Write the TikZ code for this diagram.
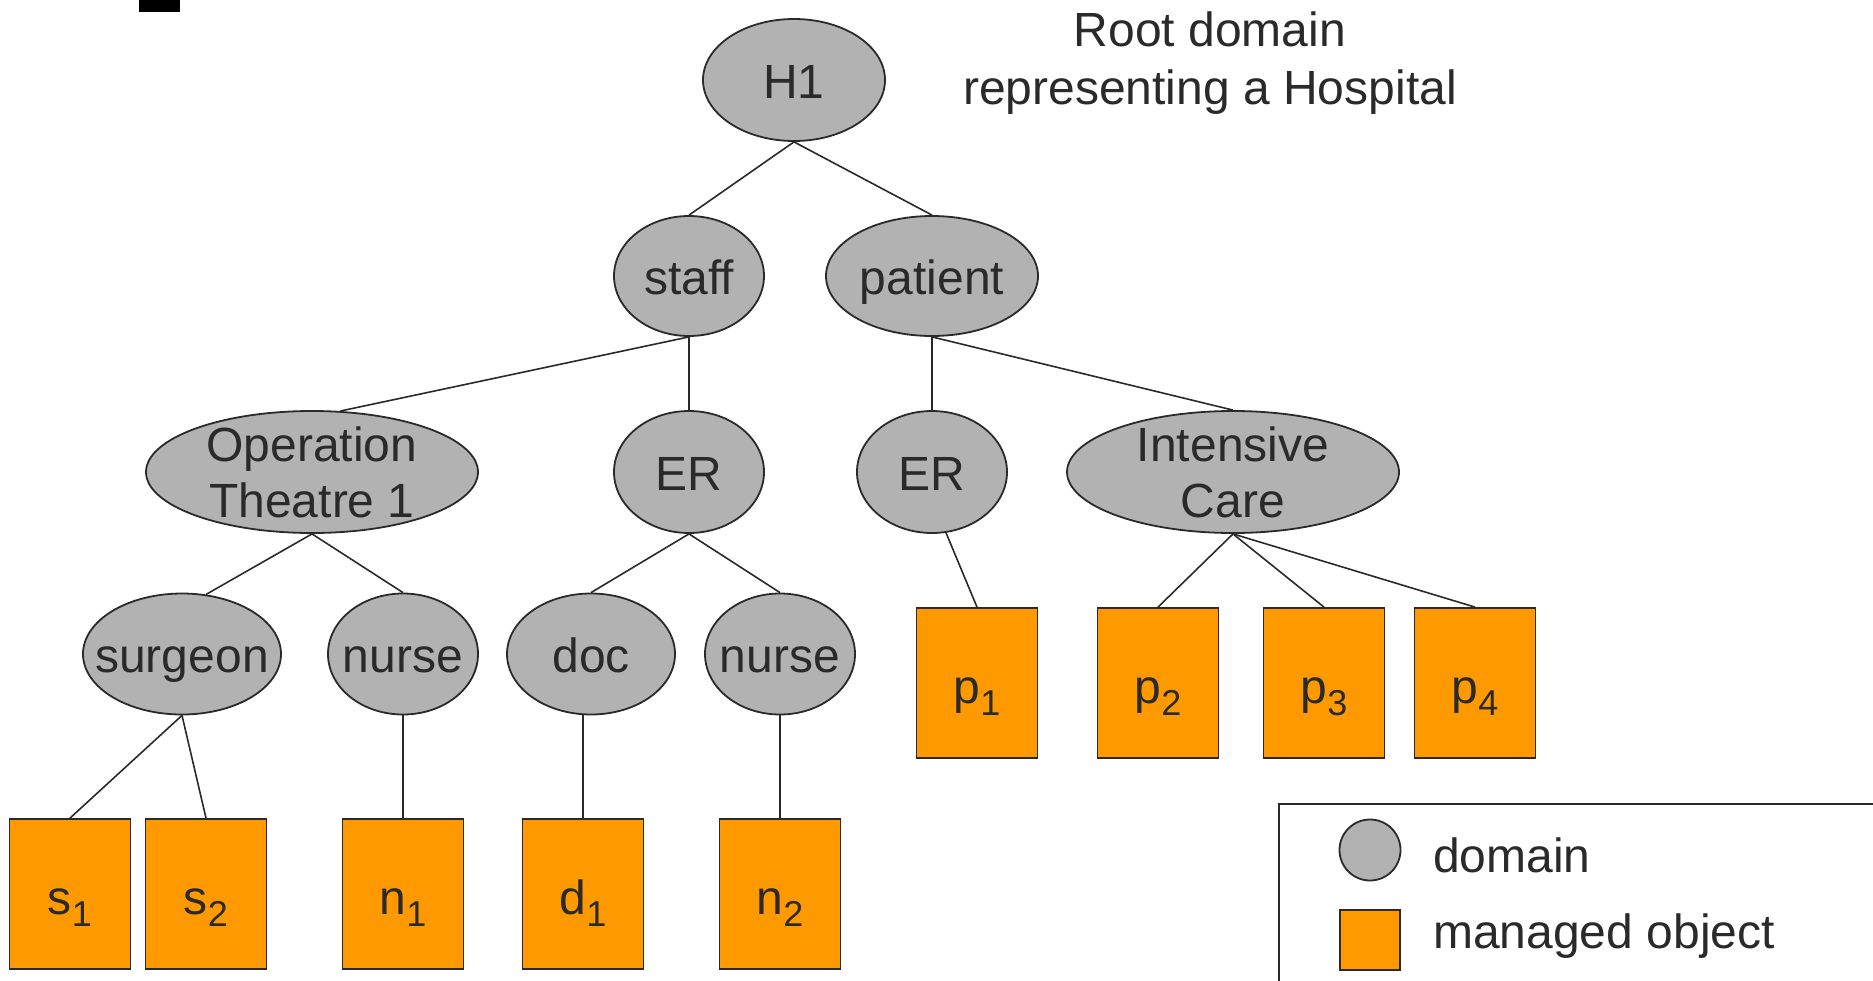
\documentclass[tikz,border=0pt]{standalone}
\usepackage{fontspec}
\setmainfont{Liberation Sans}
\usetikzlibrary{shapes.geometric}
\definecolor{domfill}{HTML}{B2B2B2}
\definecolor{objfill}{HTML}{FF9900}
\definecolor{ink}{HTML}{2A2A2A}
% lowered index used in the object names
\newcommand\subidx[1]{\raisebox{-12pt}{\fontsize{36}{36}\selectfont #1}}

\begin{document}
\begin{tikzpicture}[x=1pt,y=-1pt,
  txt/.style={font=\fontsize{48}{56}\selectfont, text=ink},
  lbl/.style={txt, align=center, inner sep=0pt},
  lblone/.style={txt, inner sep=0pt, text height=37pt, text depth=0pt},
  domnode/.style={ellipse, draw=ink, line width=1.8pt, fill=domfill, inner sep=0pt},
  mobj/.style={rectangle, draw=ink, line width=1.8pt, fill=objfill, inner sep=0pt,
    minimum width=121pt, minimum height=150pt, txt, text height=40pt, text depth=0pt},
  link/.style={draw=ink, line width=1.6pt}]
\useasboundingbox (0,0) rectangle (1873,980);

% corner mark
\fill[black] (139,0) rectangle (180,12);

% title
\node[lbl, font=\fontsize{48}{58}\selectfont] (title) at (1210,63) {Root domain\\representing a Hospital};

% domains
\node[domnode, minimum width=182pt, minimum height=122pt, label={[lblone]center:H1}] (H1) at (794,80) {};
\node[domnode, minimum width=150pt, minimum height=120pt, label={[lblone]center:staff}] (staff) at (689,276) {};
\node[domnode, minimum width=212pt, minimum height=120pt, label={[lblone]center:patient}] (patient) at (932,276) {};
\node[domnode, minimum width=332pt, minimum height=122pt, label={[lbl]center:Operation\\Theatre 1}] (OT1) at (312,472) {};
\node[domnode, minimum width=150pt, minimum height=122pt, label={[lblone]center:ER}] (ERs) at (689,472) {};
\node[domnode, minimum width=150pt, minimum height=122pt, label={[lblone]center:ER}] (ERp) at (932,472) {};
\node[domnode, minimum width=332pt, minimum height=122pt, label={[lbl]center:Intensive\\Care}] (IC) at (1233,472) {};
\node[domnode, minimum width=198pt, minimum height=121pt, label={[lblone]center:surgeon}] (surgeon) at (182,654) {};
\node[domnode, minimum width=150pt, minimum height=121pt, label={[lblone]center:nurse}] (nurseA) at (403,654) {};
\node[domnode, minimum width=168pt, minimum height=121pt, label={[lblone]center:doc}] (doc) at (591,654) {};
\node[domnode, minimum width=150pt, minimum height=121pt, label={[lblone]center:nurse}] (nurseB) at (780,654) {};

% managed objects
\node[mobj] (p1) at (977,683) {p\subidx{1}};
\node[mobj] (p2) at (1158,683) {p\subidx{2}};
\node[mobj] (p3) at (1324,683) {p\subidx{3}};
\node[mobj] (p4) at (1475,683) {p\subidx{4}};
\node[mobj] (s1) at (70,894) {s\subidx{1}};
\node[mobj] (s2) at (206,894) {s\subidx{2}};
\node[mobj] (n1) at (403,894) {n\subidx{1}};
\node[mobj] (d1) at (583,894) {d\subidx{1}};
\node[mobj] (n2) at (780,894) {n\subidx{2}};

% hierarchy
\draw[link] (H1.south) -- (staff.north);
\draw[link] (H1.south) -- (patient.north);
\draw[link] (staff.south) -- (OT1.65);
\draw[link] (staff.south) -- (ERs.north);
\draw[link] (patient.south) -- (ERp.north);
\draw[link] (patient.south) -- (IC.north);
\draw[link] (OT1.south) -- (surgeon.68);
\draw[link] (OT1.south) -- (nurseA.north);
\draw[link] (ERs.south) -- (doc.north);
\draw[link] (ERs.south) -- (nurseB.north);
\draw[link] (ERp.-77) -- (p1.north);
\draw[link] (IC.south) -- (p2.north);
\draw[link] (IC.south) -- (p3.north);
\draw[link] (IC.south) -- (p4.north);
\draw[link] (surgeon.south) -- (s1.north);
\draw[link] (surgeon.south) -- (s2.north);
\draw[link] (nurseA.south) -- (n1.north);
\draw[link] (d1.north |- doc.south) -- (d1.north);
\draw[link] (nurseB.south) -- (n2.north);

% legend
\draw[draw=ink, line width=1.6pt] (1279,990) -- (1279,804) -- (1880,804);
\node[domnode, minimum width=61pt, minimum height=61pt] (legdom) at (1370,850) {};
\node[mobj, minimum width=60pt, minimum height=60pt] (legobj) at (1370,940) {};
\node[txt, anchor=west, inner sep=0pt] (legdomtxt) at (1433,855) {domain};
\node[txt, anchor=west, inner sep=0pt] (legobjtxt) at (1433,936) {managed object};
\end{tikzpicture}
\end{document}
